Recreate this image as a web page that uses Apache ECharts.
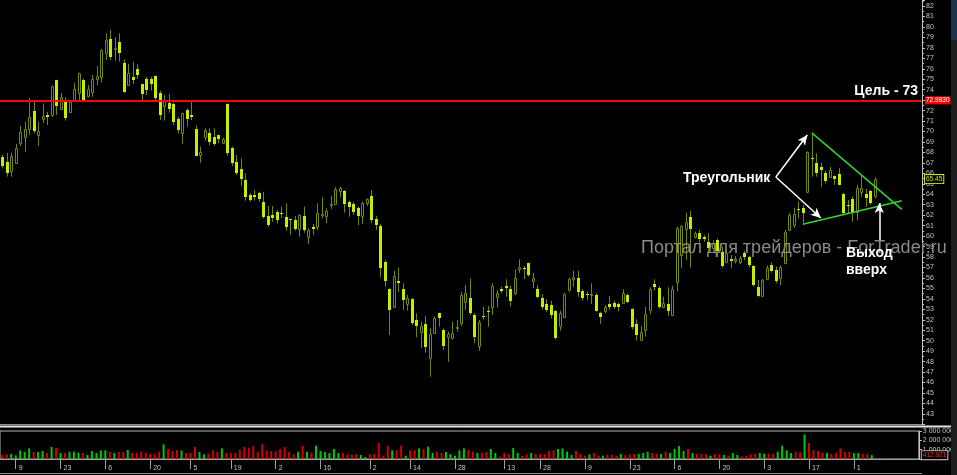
<!DOCTYPE html>
<html>
<head>
<meta charset="utf-8">
<script src="https://cdn.jsdelivr.net/npm/echarts@6/dist/echarts.min.js"></script>
<style>
  html, body { margin: 0; padding: 0; background: #000; }
  #chart { width: 957px; height: 475px; }
</style>
</head>
<body>
<div id="chart"></div>
<script>
// daily bars, [open, close, low, high]
const candles = [
  [67.53,66.70,66.48,67.76],[67.11,66.06,65.68,67.95],[66.26,67.66,65.68,67.98],[67.02,68.45,66.96,68.81],[68.93,69.92,68.62,70.53],
  [69.51,70.21,68.07,70.94],[70.24,71.42,69.67,73.20],[71.96,70.05,69.83,72.85],[69.67,70.02,68.62,70.94],[71.23,71.46,70.79,72.70],
  [71.61,71.42,70.62,71.90],[71.55,74.32,71.42,74.38],[74.90,72.47,71.58,74.95],[72.18,73.27,72.06,73.71],[73.01,71.26,71.04,73.27],
  [71.90,72.85,71.80,72.90],[73.01,74.04,72.85,74.61],[73.71,75.57,73.01,75.62],[74.93,72.95,72.85,75.09],[73.40,74.04,73.27,74.45],
  [73.81,74.99,73.33,75.40],[75.02,75.34,74.45,76.26],[75.24,77.79,74.67,77.86],[77.48,78.75,76.84,79.39],[78.85,77.10,76.84,79.71],
  [77.90,78.00,76.77,79.01],[78.59,77.48,76.68,79.39],[76.58,73.81,73.71,76.90],[74.45,75.62,74.35,76.46],[75.21,74.93,74.54,76.65],
  [75.98,75.37,75.02,76.43],[74.51,73.59,73.01,74.55],[75.02,73.97,73.49,75.24],[75.02,74.51,73.90,75.24],[75.31,73.17,73.01,75.35],
  [73.71,71.58,71.10,73.90],[72.44,72.92,71.04,73.49],[72.76,72.12,71.80,73.59],[72.60,70.88,70.62,72.76],[71.20,70.15,69.83,71.42],
  [69.83,71.74,68.81,71.80],[72.06,71.23,70.46,72.22],[71.55,71.42,71.10,72.92],[70.24,67.66,67.62,70.56],[67.73,68.01,67.02,68.55],
  [69.51,70.15,69.12,70.31],[69.83,68.97,68.71,70.31],[69.51,68.81,68.62,70.31],[69.64,69.26,68.87,69.70],[68.93,69.26,68.80,69.40],
  [72.63,67.98,67.66,72.70],[68.45,66.96,66.70,68.55],[67.06,66.00,65.84,67.76],[66.39,65.43,64.78,67.44],[65.36,63.71,63.39,66.00],
  [63.93,63.45,63.29,64.09],[63.93,63.77,63.39,64.41],[64.09,63.55,63.29,64.24],[63.29,61.86,61.70,64.24],[61.93,61.06,60.90,62.88],
  [62.05,61.73,61.37,62.88],[62.34,61.54,61.23,62.50],[62.24,62.11,61.70,62.82],[61.83,60.90,60.52,63.13],[61.60,61.50,60.14,61.65],
  [61.54,60.68,60.52,61.93],[60.70,61.99,59.95,62.11],[61.96,60.59,60.33,62.82],[59.95,60.59,59.25,60.75],[60.87,60.71,60.10,61.16],
  [60.84,62.24,60.59,63.13],[61.99,62.11,61.70,63.71],[61.96,62.37,61.23,62.66],[63.00,63.10,62.60,63.84],[63.07,64.50,62.97,64.66],
  [64.34,64.57,63.71,64.73],[64.34,63.07,62.24,64.41],[63.29,62.76,61.86,63.39],[63.04,62.28,62.02,63.29],[62.66,61.93,61.06,62.82],
  [61.93,63.13,61.16,63.29],[63.13,63.52,62.88,63.61],[63.84,61.54,61.23,64.41],[61.66,61.06,60.59,61.93],[60.96,56.92,56.07,61.16],
  [57.52,55.71,55.16,57.71],[54.92,52.94,50.55,55.01],[53.19,56.18,53.10,56.69],[55.71,55.55,54.63,56.98],[54.92,53.90,52.94,55.49],
  [53.51,54.06,52.87,54.37],[54.00,51.72,51.50,54.06],[51.98,51.41,50.33,52.62],[50.86,51.41,49.28,51.82],[51.57,49.43,48.85,52.36],
  [48.32,50.62,46.56,51.19],[50.71,52.20,50.65,52.30],[52.62,52.14,51.34,52.68],[51.02,49.53,49.11,51.19],[50.32,50.65,47.99,50.86],
  [50.23,50.71,50.13,51.82],[51.27,51.33,50.87,51.98],[51.67,54.37,51.41,54.68],[53.74,54.53,52.94,55.33],[54.11,52.62,52.45,55.95],
  [52.45,50.38,49.75,52.62],[49.53,51.75,49.05,51.98],[52.36,52.23,52.04,53.25],[52.84,52.71,51.34,53.30],[53.25,55.23,52.45,55.49],
  [54.21,54.53,53.19,54.85],[54.95,54.73,54.56,55.17],[55.20,55.04,54.21,55.87],[54.92,53.83,53.25,55.23],[54.53,55.95,54.37,56.82],
  [56.82,57.01,56.50,57.78],[56.98,56.85,55.90,57.14],[57.40,56.28,56.12,57.46],[55.74,56.00,55.04,56.50],[54.95,54.21,54.05,55.33],
  [54.11,53.25,53.00,54.47],[53.48,52.94,52.77,53.96],[53.42,52.46,52.14,53.83],[52.87,50.23,50.13,52.94],[51.44,52.62,50.96,52.87],
  [52.30,54.43,52.23,54.59],[54.85,55.90,54.72,56.03],[55.87,56.12,55.17,56.69],[55.97,54.69,54.21,56.69],[54.75,54.11,53.83,54.91],
  [54.47,54.37,53.90,54.69],[54.40,54.50,53.50,55.49],[54.37,52.87,52.77,54.53],[52.62,52.23,51.62,52.77],[52.87,53.25,52.62,53.42],
  [53.51,53.25,52.94,54.27],[53.64,53.19,53.06,53.83],[53.51,53.19,52.80,53.64],[53.64,54.53,53.51,54.91],[54.37,53.74,53.60,54.50],
  [53.00,51.28,51.09,53.10],[51.60,50.55,50.01,52.05],[50.07,50.87,50.01,51.41],[51.03,52.55,50.39,53.25],[52.94,54.92,52.55,55.11],
  [55.42,55.17,54.79,55.87],[55.01,53.19,53.10,55.23],[53.26,53.58,53.10,54.21],[53.51,52.87,52.36,55.11],[52.46,54.92,52.36,55.23],
  [55.64,60.75,54.69,60.90],[58.19,60.99,57.00,61.06],[60.65,61.37,57.71,62.24],[61.80,60.65,57.00,62.43],[59.95,60.27,59.79,60.43],
  [60.33,59.70,59.40,60.60],[59.95,59.72,59.46,60.10],[59.47,58.84,58.49,60.27],[58.84,59.30,58.60,59.60],[59.60,58.60,58.02,59.78],
  [58.50,57.10,57.00,59.00],[57.56,58.42,57.40,58.70],[57.80,57.65,56.95,58.20],[57.60,57.80,57.40,58.10],[57.50,57.90,57.30,58.10],
  [58.35,57.98,57.70,58.60],[57.97,57.24,57.00,58.10],[57.14,55.33,55.17,57.24],[55.11,54.29,54.20,55.80],[54.29,55.80,54.20,55.90],
  [55.87,56.92,55.80,57.20],[57.24,56.69,56.50,57.50],[56.76,55.73,55.50,57.10],[55.96,57.01,55.30,57.20],[57.40,60.42,57.30,60.60],
  [60.58,62.02,60.50,62.20],[61.06,62.08,60.80,62.70],[62.60,62.50,61.70,63.30],[62.66,62.18,61.23,62.97],[64.24,68.07,64.15,68.10],
  [67.50,67.40,65.68,69.83],[67.02,66.00,65.68,67.92],[66.64,66.32,64.72,67.02],[66.06,65.27,65.04,66.26],[65.68,66.32,65.60,66.60],
  [65.74,65.49,64.90,65.80],[65.90,64.88,64.88,66.50],[64.02,62.18,62.00,64.10],[63.00,62.95,62.18,63.45],[63.58,62.24,61.37,63.77],
  [62.33,64.62,61.50,64.90],[64.24,64.62,63.77,65.84],[64.02,63.62,62.80,64.50],[64.33,63.13,63.00,64.40],[63.84,65.45,63.62,65.62]
];

// volume, thousands
const volumeK = [
  428,500,536,393,928,750,1142,750,750,857, 643,1285,1178,643,643,785,785,678,643,428,
  857,643,928,928,750,643,750,750,964,643, 643,785,678,536,536,785,1571,1071,857,964,
  928,643,643,1285,750,500,571,928,750,1142, 643,643,643,964,1285,1214,1392,785,1571,928,
  857,857,1071,1285,750,500,785,1392,750,678, 1428,857,750,643,1071,643,643,500,464,536,
  428,214,536,571,1714,357,1428,928,964,1428, 357,928,964,1142,1071,1321,643,750,643,750,
  536,357,928,1142,964,
  785,643,678,750,1071,643,250,643,536,1178, 643,357,500,643,536,536,536,857,928,1071,
  1142,785,428,857,536,357,500,643,357,357, 428,428,357,536,428,500,536,536,643,750,
  643,536,536,785,643,1071,1392,857,1071,643, 536,536,536,357,536,500,428,357,643,428,
  286,357,500,536,643,571,536,571,785,1428, 928,643,785,714,2642,1714,964,857,714,643,
  536,643,1142,750,750,643,643,536,536,412.921
];

const tickIndex = [3, 13, 23, 33, 42, 51, 61, 71, 82, 91, 101, 112, 120, 130, 140, 150, 160, 170, 180, 190];
const tickLabels = ['9', '23', '6', '20', '5', '19', '2', '16', '2', '14', '28', '13', '28', '9', '23', '6', '20', '3', '17', '1'];

const targetLevel = 72.983;
const lastPrice = 65.45;
const lastVolume = 412921;

// triangle and arrows, [barIndex, price]
const upperLine = [[180, 69.87], [200, 62.56]];
const lowerLine = [[178, 61.13], [200, 63.39]];
const arrowFrom = [172.3, 65.65];
const arrowTops = [[179.2, 69.67], [182.2, 61.73]];
const exitArrow = [[194.5, 59.44], [194.5, 63.17]];

const SLOTS = 205;
const BRIGHT = '#c6ec00';
const DARK = '#738800';
const GREEN = '#00c800';
const RED = '#d20000';
const AXIS = '#c4c4c4';
const FONT = 'Liberation Sans, Arial, sans-serif';
const NOLINE = { color: 'rgba(0,0,0,0)', width: 0 };

const cats = [];
for (let i = 0; i < SLOTS; i++) cats.push(String(i));
const tickSet = {};
tickIndex.forEach((t, k) => { tickSet[t] = tickLabels[k]; });

const candleData = candles.map((r, i) => [i, r[0], r[1], r[2], r[3]]);
const volData = volumeK.map((v, i) => ({
  value: v * 1000,
  itemStyle: { color: candles[i][1] >= candles[i][0] ? GREEN : RED }
}));

function renderCandle(params, api) {
  const i = api.value(0);
  const o = api.value(1), c = api.value(2), l = api.value(3), h = api.value(4);
  const pO = api.coord([i, o]);
  const x = Math.round(pO[0]) + 0.5;
  const yC = api.coord([i, c])[1];
  const yL = api.coord([i, l])[1];
  const yH = api.coord([i, h])[1];
  const top = Math.round(Math.min(pO[1], yC));
  const bot = Math.round(Math.max(pO[1], yC));
  const kids = [{
    type: 'line',
    shape: { x1: x, y1: yH, x2: x, y2: yL },
    style: { stroke: DARK, lineWidth: 1 }
  }];
  if (c >= o) {
    kids.push({
      type: 'rect',
      shape: { x: x - 1, y: top + 0.5, width: 2, height: Math.max(bot - top, 1) },
      style: { fill: '#000', stroke: DARK, lineWidth: 1 }
    });
  } else {
    kids.push({
      type: 'rect',
      shape: { x: x - 1.5, y: top, width: 3, height: Math.max(bot - top, 1) },
      style: { fill: BRIGHT }
    });
  }
  return { type: 'group', children: kids };
}

function seg(a, b, color, width, arrow) {
  return [
    { coord: a, symbol: 'none', lineStyle: { color: color, width: width, type: 'solid' } },
    { coord: b, symbol: arrow ? 'arrow' : 'none', symbolSize: [7, 10] }
  ];
}

function boxLabel(text, color, bg, border) {
  return {
    show: true, position: 'end', distance: 3, formatter: text,
    color: color, backgroundColor: bg, borderColor: border, borderWidth: border ? 1 : 0,
    padding: [1, 1, 0, 1], fontSize: 6.5, fontFamily: FONT
  };
}

const chart = echarts.init(document.getElementById('chart'));

chart.setOption({
  backgroundColor: '#000',
  animation: false,
  grid: [
    { left: -1, right: 35, top: 0, height: 424.4 },
    { left: -1, right: 35, top: 431, height: 28, show: true, borderColor: '#b4b4b4', borderWidth: 1 }
  ],
  xAxis: [
    {
      type: 'category', gridIndex: 0, data: cats, boundaryGap: true,
      axisLine: { lineStyle: { color: '#8c8c8c' } },
      axisTick: { show: false }, axisLabel: { show: false }, splitLine: { show: false }
    },
    {
      type: 'category', gridIndex: 1, data: cats, boundaryGap: true, offset: 4,
      axisLine: { lineStyle: { color: '#a0a0a0' } },
      axisTick: {
        show: true, alignWithLabel: true, length: 10,
        interval: (i) => tickSet[i] !== undefined,
        lineStyle: { color: '#a0a0a0' }
      },
      axisLabel: {
        interval: (i) => tickSet[i] !== undefined,
        formatter: (v, i) => tickSet[i] || '',
        align: 'left', padding: [0, 0, 0, 3], margin: 2,
        color: AXIS, fontSize: 7, fontFamily: FONT
      },
      splitLine: { show: false }
    }
  ],
  yAxis: [
    {
      type: 'value', gridIndex: 0, position: 'right', min: 42, max: 82.574, interval: 1,
      axisLine: { show: true, lineStyle: { color: AXIS } },
      axisTick: { show: true, length: 3, lineStyle: { color: AXIS } },
      minorTick: { show: true, splitNumber: 2, length: 2, lineStyle: { color: AXIS } },
      axisLabel: {
        margin: 4, color: AXIS, fontSize: 7, fontFamily: FONT,
        formatter: (v) => (Number.isInteger(v) && v >= 43 ? String(v) : '')
      },
      splitLine: { show: false }
    },
    {
      type: 'value', gridIndex: 1, position: 'right', min: 0, max: 3000000, interval: 1000000,
      axisLine: { show: true, lineStyle: { color: AXIS } },
      axisTick: { show: true, length: 3, lineStyle: { color: AXIS } },
      axisLabel: {
        margin: 4, color: AXIS, fontSize: 7, fontFamily: FONT,
        formatter: (v) => (v === 0 ? '' : String(v).replace(/\B(?=(\d{3})+(?!\d))/g, ' '))
      },
      splitLine: { show: false }
    }
  ],
  series: [
    {
      name: 'price', type: 'custom', xAxisIndex: 0, yAxisIndex: 0,
      renderItem: renderCandle, data: candleData, clip: true,
      encode: { x: 0, y: [1, 2, 3, 4] },
      markLine: {
        silent: true, animation: false, symbol: ['none', 'none'],
        label: { show: false },
        data: [
          {
            yAxis: targetLevel,
            lineStyle: { color: '#ff0000', width: 2, type: 'solid' },
            label: boxLabel(targetLevel.toFixed(4), '#fff', '#ff0000', null)
          },
          {
            yAxis: lastPrice,
            lineStyle: NOLINE,
            label: boxLabel(lastPrice.toFixed(2), BRIGHT, '#000', BRIGHT)
          },
          seg(upperLine[0], upperLine[1], '#2ed82e', 1.5, false),
          seg(lowerLine[0], lowerLine[1], '#2ed82e', 1.5, false),
          seg(arrowFrom, arrowTops[0], '#ffffff', 1.5, true),
          seg(arrowFrom, arrowTops[1], '#ffffff', 1.5, true),
          seg(exitArrow[0], exitArrow[1], '#ffffff', 1.5, true)
        ]
      }
    },
    {
      name: 'volume', type: 'bar', xAxisIndex: 1, yAxisIndex: 1,
      data: volData, barWidth: 2,
      markLine: {
        silent: true, animation: false, symbol: ['none', 'none'],
        data: [{
          yAxis: lastVolume,
          lineStyle: NOLINE,
          label: boxLabel('412 921', '#ff2a2a', '#000', '#bbbbbb')
        }]
      }
    }
  ],
  graphic: [
    { type: 'line', z: 100, shape: { x1: 0, y1: 426.5, x2: 957, y2: 426.5 }, style: { stroke: '#e6e6e6', lineWidth: 2 } },
    { type: 'line', z: 100, shape: { x1: 0, y1: 473.5, x2: 922, y2: 473.5 }, style: { stroke: '#8c8c8c', lineWidth: 1 } },
    { type: 'rect', z: 100, shape: { x: 951, y: 0, width: 6, height: 40 }, style: { fill: '#1d3450' } },
    { type: 'rect', z: 100, shape: { x: 951, y: 40, width: 6, height: 435 }, style: { fill: '#1e1e1e' } },
    {
      type: 'text', z: 90, left: 641, top: 239,
      style: { text: 'Портал для трейдеров - ForTrader.ru', fill: '#8e8888', font: '18px ' + FONT }
    },
    {
      type: 'text', z: 110, right: 39, top: 84,
      style: { text: 'Цель - 73', fill: '#fff', font: 'bold 14px ' + FONT }
    },
    {
      type: 'text', z: 110, left: 683, top: 171,
      style: { text: 'Треугольник', fill: '#fff', font: 'bold 14px ' + FONT }
    },
    {
      type: 'text', z: 110, left: 846, top: 245,
      style: { text: 'Выход\nвверх', fill: '#fff', font: 'bold 14px ' + FONT, lineHeight: 17 }
    }
  ]
});
</script>
</body>
</html>
